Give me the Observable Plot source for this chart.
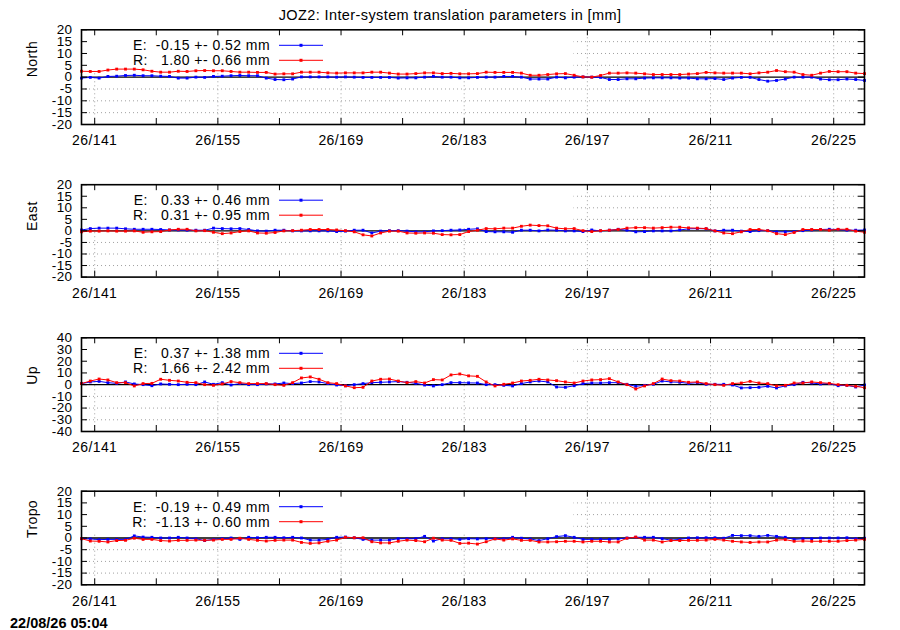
<!DOCTYPE html>
<html><head><meta charset="utf-8">
<script src="https://cdn.jsdelivr.net/npm/d3@7"></script>
<script src="https://cdn.jsdelivr.net/npm/@observablehq/plot@0.6"></script>
<style>
body{margin:0;background:#fff;width:900px;height:630px;position:relative;overflow:hidden;font-family:"Liberation Sans",Arial,sans-serif;color:#000;}
.abs{position:absolute;}
</style></head><body>
<div class="abs" style="left:0;width:900px;top:6px;text-align:center;font-size:14.5px;line-height:18px;letter-spacing:0.4px;">JOZ2: Inter-system translation parameters in [mm]</div>
<div class="abs" style="left:10px;top:614px;font-size:14.5px;line-height:18px;font-weight:bold;">22/08/26 05:04</div>
<div id="root"></div>
<script>
// day of year (year 26), one solution per day
const doy = [139,140,141,142,143,144,145,146,147,148,149,150,151,152,153,154,155,156,157,158,
159,160,161,162,163,164,165,166,167,168,169,170,171,172,173,174,175,176,177,178,
179,180,181,182,183,184,185,186,187,188,189,190,191,192,193,194,195,196,197,198,
199,200,201,202,203,204,205,206,207,208,209,210,211,212,213,214,215,216,217,218,
219,220,221,222,223,224,225,226,227,228];

const northE = [-0.4,-0.1,-0.4,0.3,0.4,0.7,0.8,0.6,0.6,0.4,
0.3,-0.4,-0.4,0.0,-0.1,0.3,0.4,0.6,0.7,0.6,
0.6,-0.4,-1.0,-1.1,-0.8,0.1,0.1,0.1,0.1,0.0,
0.1,0.0,-0.1,-0.1,-0.1,-0.1,-0.4,-0.3,-0.3,0.0,
0.3,0.0,0.0,-0.3,-0.3,-0.1,0.0,0.0,0.3,0.3,
0.0,-0.8,-0.8,-0.8,0.0,-0.3,0.0,0.1,0.0,-0.1,
-1.0,-1.0,-0.7,-0.7,-0.4,-0.3,-0.3,-0.3,-0.4,-0.4,
-0.7,-0.7,-0.6,-1.0,-0.4,-0.1,-0.1,-1.0,-1.7,-1.4,
-0.8,0.0,0.0,0.0,-0.8,-1.1,-1.1,-0.8,-1.0,-1.4];
const northR = [2.5,2.4,2.4,3.0,3.4,3.4,3.4,3.1,2.5,2.1,
2.1,2.5,2.4,2.7,2.8,2.7,2.7,2.4,2.1,2.1,
2.0,2.0,1.3,1.4,1.4,2.1,2.1,2.1,1.8,1.7,
1.8,1.8,1.8,2.1,2.1,1.7,1.3,1.3,1.5,1.8,
1.8,1.5,1.6,1.4,1.4,1.5,2.1,2.0,2.0,2.0,
1.7,0.8,0.8,1.1,1.4,1.5,0.8,0.1,0.0,0.7,
1.7,1.7,1.8,1.7,1.4,1.1,1.1,1.1,1.1,1.3,
1.5,2.0,1.8,1.7,1.7,1.7,1.4,1.8,2.1,2.8,
2.3,2.1,1.1,0.8,1.7,2.4,2.3,2.3,1.7,1.5];
const eastE = [0.4,1.0,1.2,1.2,1.2,0.9,0.7,0.7,0.7,0.6,
0.4,0.4,0.3,0.3,0.3,1.2,1.0,0.9,1.0,0.6,
0.0,-0.1,0.3,0.3,0.0,0.0,0.0,0.0,0.0,-0.3,
-0.1,0.3,0.3,-0.9,-0.1,0.1,0.1,-0.1,-0.4,-0.4,
0.0,0.1,0.3,0.4,0.7,0.9,-0.3,-0.4,-0.4,-0.6,
0.3,0.3,0.0,0.4,0.3,0.0,0.0,-0.3,0.4,0.0,
0.3,0.7,0.3,-0.4,-0.3,0.0,0.0,0.0,0.4,0.9,
1.0,0.9,0.0,0.3,0.3,-0.1,-0.3,0.1,0.1,-0.4,
-0.4,-0.3,0.1,0.4,0.6,0.7,0.6,0.3,0.3,0.4];
const eastR = [-0.4,-0.1,-0.1,0.0,-0.1,-0.1,0.0,-0.6,-0.4,-0.3,
0.4,0.7,0.7,0.0,0.1,-0.6,-1.2,-0.9,-0.3,0.0,
-0.9,-1.0,-0.7,0.0,0.1,0.3,0.6,0.6,0.6,0.4,
0.1,-0.4,-1.7,-2.2,-0.9,-0.1,-0.1,-0.9,-1.0,-0.9,
-1.0,-1.6,-1.7,-1.6,-0.3,0.3,1.0,0.9,1.2,1.2,
2.0,2.5,2.3,2.2,1.2,0.9,1.0,0.1,-0.3,0.1,
0.3,0.6,1.2,1.4,1.4,1.2,1.4,1.6,1.6,1.3,
1.2,1.0,0.0,-0.9,-1.2,-0.4,0.6,0.6,0.1,-1.2,
-1.6,-0.7,0.6,0.6,0.6,0.3,0.7,0.7,-0.1,-0.6];
const upE = [0.9,2.3,2.8,1.7,1.1,2.3,0.6,0.0,-0.9,0.6,
0.3,0.0,0.3,0.0,2.3,0.3,1.7,-0.3,0.9,0.0,
0.0,0.6,0.6,1.4,0.9,1.4,2.6,2.3,0.9,-0.3,
-0.9,0.0,0.9,1.7,2.0,2.3,2.6,2.0,1.1,-0.3,
-1.1,0.0,1.7,1.7,1.5,1.4,0.0,0.0,-0.6,-1.1,
0.9,2.3,3.1,2.3,-2.0,-2.3,-0.9,0.9,1.4,1.4,
1.7,1.7,0.3,-1.4,-0.6,0.3,3.1,2.3,2.0,1.1,
1.7,0.3,0.3,0.3,-0.3,-2.8,-2.6,-2.3,-1.4,-2.8,
-1.1,0.0,2.0,1.4,0.6,0.9,-0.9,-0.6,-2.0,-0.3];
const upR = [0.9,3.1,4.8,4.0,1.7,1.7,-1.1,0.9,1.1,4.6,
3.7,3.1,2.0,1.7,0.0,-0.6,0.6,2.6,1.7,0.9,
0.9,0.9,0.0,-0.6,1.7,5.7,6.6,4.6,1.7,0.9,
-1.1,-2.6,-2.3,3.1,4.6,4.8,3.1,1.7,2.6,1.4,
4.3,4.0,8.3,9.1,7.5,7.1,2.3,-1.1,0.3,1.4,
3.1,3.7,4.6,4.0,3.4,2.3,1.4,3.1,4.0,4.3,
5.1,2.3,0.0,-3.7,-1.1,0.9,4.8,3.4,3.1,2.0,
2.3,0.9,0.0,-0.6,0.9,1.4,2.8,1.4,0.9,-1.1,
-0.6,1.4,1.4,2.3,1.7,1.1,0.0,-0.6,-1.4,-2.6];
const tropoE = [-0.3,-0.4,-0.7,-0.6,-0.6,-0.6,0.9,0.4,0.3,0.0,
0.0,0.3,0.0,-0.3,-1.1,-0.6,-0.3,0.0,-0.6,0.3,
0.1,0.3,0.3,0.1,0.3,0.0,-0.9,-0.9,-0.6,0.3,
0.4,0.1,-0.6,-0.9,-0.9,-0.9,-0.3,-0.3,-0.3,0.7,
-1.3,-0.3,-0.3,-0.6,-0.3,-0.4,-0.3,-0.3,-0.3,0.3,
-0.1,-0.4,-1.1,-0.3,0.6,1.0,0.3,-0.6,-0.6,-0.6,
-0.6,-0.4,0.0,0.3,0.3,0.3,-0.3,-0.9,-0.6,0.0,
0.1,0.1,0.1,-0.1,1.1,1.0,1.0,0.7,1.1,0.7,
0.3,-0.6,-0.3,-0.3,0.0,0.0,0.0,0.1,-0.3,-0.1];
const tropoR = [-0.3,-1.3,-1.4,-1.7,-1.1,-1.0,-0.1,-0.6,-0.6,-1.1,
-1.3,-1.0,-1.0,-0.9,-1.0,-0.9,-0.6,-0.6,-0.1,-0.6,
-1.0,-1.3,-1.0,-0.9,-0.9,-1.9,-2.3,-2.1,-1.4,-0.9,
0.3,0.1,0.1,-1.6,-2.1,-2.1,-1.4,-0.9,-1.1,-1.6,
-0.1,-0.9,-1.0,-2.3,-2.2,-2.6,-1.6,-0.4,-0.9,-0.4,
-1.0,-1.0,-1.7,-1.7,-1.6,-1.4,-1.4,-1.7,-1.4,-1.4,
-1.7,-1.7,-0.1,0.4,-0.9,-0.9,-1.7,-1.1,-1.1,-1.0,
-1.0,-0.9,-0.6,-0.9,-1.4,-1.7,-1.9,-1.7,-1.7,-0.9,
-0.7,-1.4,-1.3,-1.4,-1.4,-1.4,-1.4,-1.1,-0.9,-0.6];

const panelNames = ["North", "East", "Up", "Tropo"];
const seriesE = [northE, eastE, upE, tropoE];
const seriesR = [northR, eastR, upR, tropoR];
const statsE = ["-0.15 +- 0.52 mm", " 0.33 +- 0.46 mm", " 0.37 +- 1.38 mm", "-0.19 +- 0.49 mm"];
const statsR = [" 1.80 +- 0.66 mm", " 0.31 +- 0.95 mm", " 1.66 +- 2.42 mm", "-1.13 +- 0.60 mm"];
const yTicksSmall = [-20, -15, -10, -5, 0, 5, 10, 15, 20];
const yTicksUp = [-40, -30, -20, -10, 0, 10, 20, 30, 40];
const panelYTicks = [yTicksSmall, yTicksSmall, yTicksUp, yTicksSmall];
const xTickDays = [141, 148, 155, 162, 169, 176, 183, 190, 197, 204, 211, 218, 225];
const xLabelDays = [141, 155, 169, 183, 197, 211, 225];
const yearLabel = "26";

// layout (pixels)
const frameTops = [29.3, 184.2, 337.3, 490.7];
const frameBottoms = [124, 276.6, 431, 584.3];
const W = 900, ML = 81, MR = 36, MB = 30;
const plotW = W - ML - MR;
const TICK = 6;
const FONT = '"Liberation Sans", Arial, sans-serif';
const BLUE = "#0000ff", RED = "#ff0000";

const root = document.getElementById("root");

panelNames.forEach((name, i) => {
  const yt = panelYTicks[i];
  const ymin = yt[0], ymax = yt[yt.length - 1];
  const svgTop = Math.floor(frameTops[i]) - 5;
  const MT = frameTops[i] - svgTop;
  const frameH = frameBottoms[i] - frameTops[i];
  const data = doy.map((d, k) => ({x: d + 0.5, e: seriesE[i][k], r: seriesR[i][k]}));
  const gridY = yt.filter(v => v !== 0 && v !== ymin && v !== ymax);

  const chart = Plot.plot({
    width: W,
    height: MT + frameH + MB,
    marginLeft: ML, marginRight: MR, marginTop: MT, marginBottom: MB,
    style: {fontFamily: FONT, fontSize: "14px", letterSpacing: "0.4px", color: "#000", background: "transparent", overflow: "visible"},
    x: {domain: [doy[0] + 0.5, doy[doy.length - 1] + 0.5], label: null},
    y: {domain: [ymin, ymax], label: null},
    marks: [
      Plot.gridY(gridY, {stroke: "#a0a0a0", strokeOpacity: 1, strokeWidth: 1, strokeDasharray: "1,3"}),
      Plot.gridX(xLabelDays, {stroke: "#a0a0a0", strokeOpacity: 1, strokeWidth: 1, strokeDasharray: "1,3"}),
      // opaque key box
      Plot.frame({fill: "white", stroke: "none", insetRight: 291, insetBottom: frameH - 41}),
      Plot.ruleY([0], {stroke: "black", strokeWidth: 1.4}),
      Plot.line(data, {x: "x", y: "e", stroke: BLUE, strokeWidth: 1}),
      Plot.dot(data, {x: "x", y: "e", fill: BLUE, r: 1.6, symbol: "square"}),
      Plot.line(data, {x: "x", y: "r", stroke: RED, strokeWidth: 1}),
      Plot.dot(data, {x: "x", y: "r", fill: RED, r: 1.6, symbol: "square"}),
      // inward ticks
      Plot.tickY(yt, {y: d => d, insetRight: plotW - TICK, stroke: "black", strokeWidth: 1}),
      Plot.tickY(yt, {y: d => d, insetLeft: plotW - TICK, stroke: "black", strokeWidth: 1}),
      Plot.tickX(xTickDays, {x: d => d, insetTop: frameH - TICK, stroke: "black", strokeWidth: 1}),
      Plot.tickX(xTickDays, {x: d => d, insetBottom: frameH - TICK, stroke: "black", strokeWidth: 1}),
      Plot.axisX(xLabelDays, {tickSize: 0, tickPadding: 11, tickFormat: d => yearLabel + "/" + d, label: null}),
      Plot.axisY(yt, {tickSize: 0, tickPadding: 9, tickFormat: d => String(d), label: null, fontSize: 13.5}),
      Plot.frame({stroke: "black", strokeWidth: 1.6}),
      Plot.text([name], {text: d => d, frameAnchor: "left", rotate: -90, dx: -49, fontSize: 14})
    ]
  });
  chart.style.position = "absolute";
  chart.style.left = "0px";
  chart.style.top = svgTop + "px";
  root.appendChild(chart);
});

// key (legend) overlay
const key = d3.select("body").append("svg")
  .attr("width", W).attr("height", 630)
  .style("position", "absolute").style("left", "0px").style("top", "0px")
  .style("pointer-events", "none")
  .style("font-family", FONT).style("font-size", "14px").style("letter-spacing", "0.45px");
panelNames.forEach((name, i) => {
  const rows = [["E:  " + statsE[i], BLUE, 16], ["R:  " + statsR[i], RED, 31]];
  rows.forEach(([label, color, off]) => {
    const y = frameTops[i] + off;
    key.append("text").attr("x", 270).attr("y", y).attr("dy", "0.35em")
      .attr("text-anchor", "end").style("white-space", "pre").attr("xml:space", "preserve")
      .text(label);
    key.append("line").attr("x1", 279).attr("x2", 323).attr("y1", y).attr("y2", y)
      .attr("stroke", color).attr("stroke-width", 1);
    key.append("rect").attr("x", 301 - 1.5).attr("y", y - 1.5).attr("width", 3).attr("height", 3).attr("fill", color);
  });
});
</script>
</body></html>
